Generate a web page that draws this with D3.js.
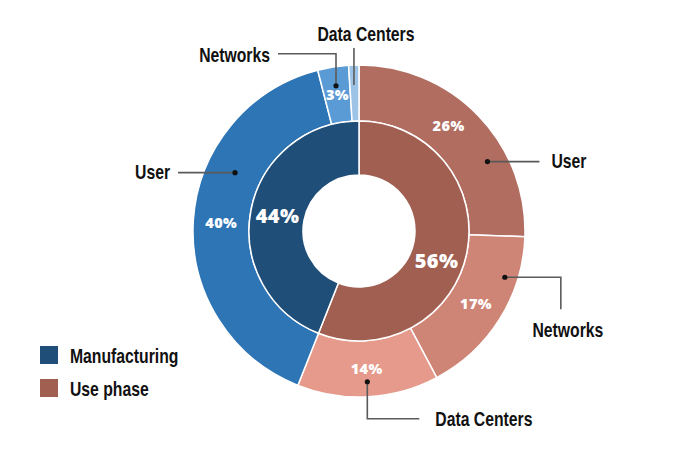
<!DOCTYPE html>
<html><head><meta charset="utf-8">
<script src="https://cdn.jsdelivr.net/npm/d3@7"></script>
<style>
html,body{margin:0;padding:0;background:#fff;}
svg{display:block;}
.lbl{font-family:"Liberation Sans","Arial",sans-serif;font-weight:bold;font-size:21px;fill:#111;}
.pct{font-family:"Open Sans",sans-serif;font-weight:800;fill:#fff;letter-spacing:0.4px;}
</style></head><body>
<svg id="c" width="691" height="466"></svg>
<script>
// ---- data ----
const groups = ["Use phase", "Manufacturing"];
const groupValues = [56, 44];
const groupColors = ["#a15f51", "#1f4e79"];
const subCategories = ["User", "Networks", "Data Centers"];
const usePhaseValues = [26, 17, 14];
const manufacturingValues = [40, 3, 1];
const usePhaseColors = ["#b06d60", "#cf8576", "#e59a8b"];
const manufacturingColors = ["#2e75b6", "#5b9bd5", "#9dc3e6"];

// ---- layout ----
const W = 691, H = 466, cx = 359, cy = 231;
const rHole = 56, rMid = 110, rOuter = 166;
const narrow = 0.75;
const svg = d3.select("#c");
const g = svg.append("g").attr("transform", `translate(${cx},${cy})`);

const innerPie = d3.pie().sort(null).value(d => d)(groupValues);
const innerArc = d3.arc().innerRadius(rHole).outerRadius(rMid);
const outerArc = d3.arc().innerRadius(rMid).outerRadius(rOuter);

// nested outer slices inside each parent sector
const subSets = [usePhaseValues, manufacturingValues];
const subColors = [usePhaseColors, manufacturingColors];
const outer = [];
innerPie.forEach((p, gi) => {
  const vals = subSets[gi];
  const ang = d3.scaleLinear().domain([0, d3.sum(vals)]).range([p.startAngle, p.endAngle]);
  let acc = 0;
  vals.forEach((v, si) => {
    outer.push({group: gi, sub: si, value: v, startAngle: ang(acc), endAngle: ang(acc + v), color: subColors[gi][si]});
    acc += v;
  });
});

g.selectAll("path.outer").data(outer).join("path").attr("class", "outer")
  .attr("d", outerArc).attr("fill", d => d.color).attr("stroke", "#fff").attr("stroke-width", 1.5);
g.selectAll("path.inner").data(innerPie).join("path").attr("class", "inner")
  .attr("d", innerArc).attr("fill", (d, i) => groupColors[i]).attr("stroke", "#fff").attr("stroke-width", 1.5);

// percentage labels
const pctAngleFrac = [[0.44, 0.5, 0.5], [0.5, 0.5, 0.5]];
g.selectAll("text.opct").data(outer.filter(d => d.value >= 3)).join("text").attr("class", "pct opct")
  .attr("font-size", 14.5)
  .attr("text-anchor", "middle").attr("dy", "0.36em")
  .attr("transform", d => {
    const a = d.startAngle + (d.endAngle - d.startAngle) * pctAngleFrac[d.group][d.sub];
    const [x, y] = d3.pointRadial(a, (rMid + rOuter) / 2);
    return `translate(${x},${y})`;
  })
  .text(d => d.value + "%");
const innerPctFrac = [0.55, 0.5];
g.selectAll("text.ipct").data(innerPie).join("text").attr("class", "pct ipct")
  .attr("font-size", 20)
  .attr("text-anchor", "middle").attr("dy", "0.36em")
  .attr("transform", (d, i) => {
    const a = d.startAngle + (d.endAngle - d.startAngle) * innerPctFrac[i];
    const [x, y] = d3.pointRadial(a, (rHole + rMid) / 2);
    return `translate(${x},${y})`;
  })
  .text(d => d.value + "%");

function label(sel, x, y, anchor, txt) {
  sel.append("g").attr("transform", `translate(${x},${y}) scale(${narrow},1)`)
    .append("text").attr("class", "lbl").attr("dy", "0.36em").attr("text-anchor", anchor).text(txt);
}

// leader annotations: [group, sub, angle fraction, dot radius, path offsets from dot, label offset, anchor, show dot]
const leaders = [
  [0, 0, 0.67, 146, [[52, 0]], [64, -1], "start", true],
  [0, 1, 0.26, 153, [[56, 0], [56, 32]], [63, 52], "middle", true],
  [0, 2, 0.5, 151, [[0, 37], [52, 37]], [68, 37], "start", true],
  [1, 0, 0.65, 137, [[-57, 0]], [-65, -1], "end", true],
  [1, 1, 0.5, 147, [[0, -32], [-58, -32]], [-66, -31], "end", true],
  [1, 2, 0.45, 146, [[0, -37]], [12, -52], "middle", false]
];
const ann = g.append("g");
leaders.forEach(L => {
  const d = outer.find(o => o.group === L[0] && o.sub === L[1]);
  const a = d.startAngle + (d.endAngle - d.startAngle) * L[2];
  const [x0, y0] = d3.pointRadial(a, L[3]);
  const pts = [[x0, y0]].concat(L[4].map(p => [x0 + p[0], y0 + p[1]]));
  ann.append("path").attr("d", d3.line()(pts)).attr("fill", "none")
    .attr("stroke", "#5a5a5a").attr("stroke-width", 1.6);
  if (L[7]) ann.append("circle").attr("cx", x0).attr("cy", y0).attr("r", 2.6).attr("fill", "#111");
  label(ann, x0 + L[5][0], y0 + L[5][1], L[6], subCategories[L[1]]);
});

// legend
const legendOrder = [1, 0];
const lg = svg.append("g").attr("transform", "translate(40,346)");
legendOrder.forEach((gi, k) => {
  lg.append("rect").attr("x", 0).attr("y", k * 33).attr("width", 18).attr("height", 18).attr("fill", groupColors[gi]);
  label(lg, 30, k * 33 + 9, "start", groups[gi]);
});
</script>
</body></html>
